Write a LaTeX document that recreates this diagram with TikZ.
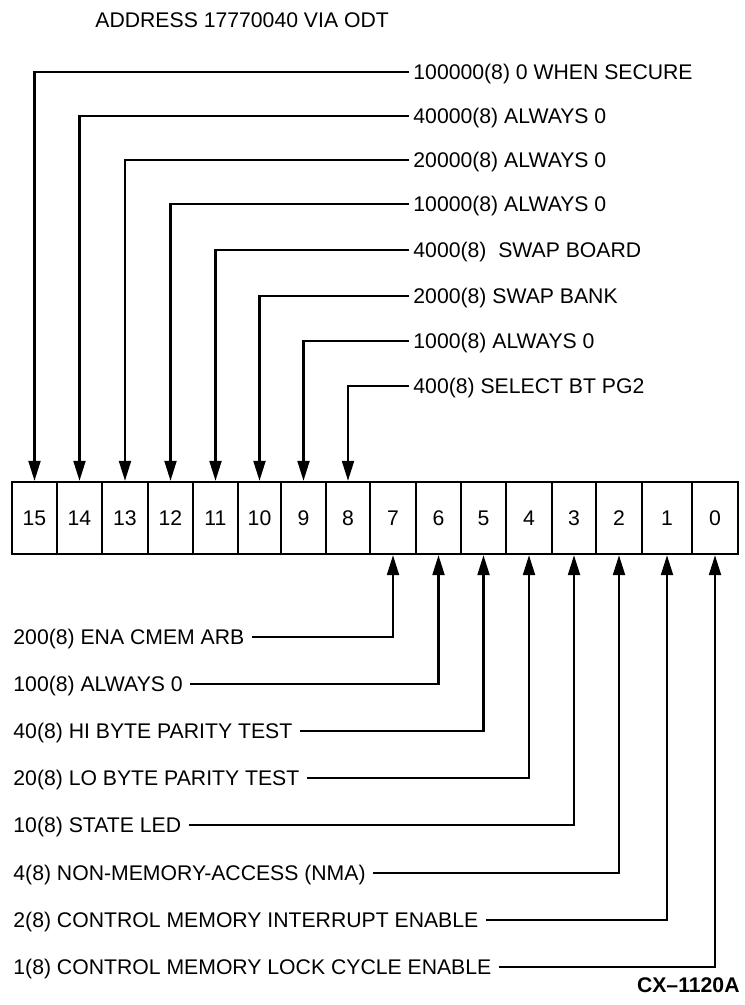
\documentclass[tikz,border=0pt]{standalone}
\usepackage{fontspec}
\setmainfont{Liberation Sans}
\usetikzlibrary{arrows.meta}

\begin{document}
\begin{tikzpicture}[
    x=0.75pt, y=-0.75pt, >={Triangle[length=15pt, width=9pt]},
    every node/.style={font=\fontsize{15.9pt}{18pt}\selectfont},
    cell/.style={draw, line width=1.8pt, minimum height=54pt, inner sep=0pt,
                 text height=11.4pt, text depth=0pt},
    lbl/.style={inner xsep=3.5pt, inner ysep=0pt, text height=11.4pt,
                text depth=0pt},
    wire/.style={->, line width=1.6pt}
  ]
  \useasboundingbox (0,0) rectangle (744,1005);

  \node[lbl, anchor=west] (title) at (90.5,19.5) {ADDRESS 17770040 VIA ODT};

  \foreach \n/\l/\r in {15/12/57, 14/57/102, 13/102/148, 12/148/193,
                        11/193/238, 10/238/281, 9/281/326, 8/326/370,
                        7/370/416, 6/416/461, 5/461/506, 4/506/552,
                        3/552/596, 2/596/642, 1/642/692, 0/692/738}
    \node[cell, minimum width={(\r-\l)*0.75pt}] (b\n) at ({(\l+\r)/2},518) {\n};

  \node[lbl, anchor=west] (t15) at (408.5,72) {100000(8) 0 WHEN SECURE};
  \node[lbl, anchor=west] (t14) at (408.5,116) {40000(8) ALWAYS 0};
  \node[lbl, anchor=west] (t13) at (408.5,160) {20000(8) ALWAYS 0};
  \node[lbl, anchor=west] (t12) at (408.5,204) {10000(8) ALWAYS 0};
  \node[lbl, anchor=west] (t11) at (408.5,250) {4000(8)\ \ SWAP BOARD};
  \node[lbl, anchor=west] (t10) at (408.5,296) {2000(8) SWAP BANK};
  \node[lbl, anchor=west] (t9) at (408.5,341) {1000(8) ALWAYS 0};
  \node[lbl, anchor=west] (t8) at (408.5,386) {400(8) SELECT BT PG2};
  \foreach \n in {15,...,8}
    \draw[wire] (t\n.west) -| (b\n.north);

  \node[lbl, anchor=west] (c7) at (8.5,637) {200(8) ENA CMEM ARB};
  \node[lbl, anchor=west] (c6) at (8.5,684) {100(8) ALWAYS 0};
  \node[lbl, anchor=west] (c5) at (8.5,731) {40(8) HI BYTE PARITY TEST};
  \node[lbl, anchor=west] (c4) at (8.5,778) {20(8) LO BYTE PARITY TEST};
  \node[lbl, anchor=west] (c3) at (8.5,825) {10(8) STATE LED};
  \node[lbl, anchor=west] (c2) at (8.5,873) {4(8) NON-MEMORY-ACCESS (NMA)};
  \node[lbl, anchor=west] (c1) at (8.5,920)
    {2(8) CONTROL MEMORY INTERRUPT ENABLE};
  \node[lbl, anchor=west] (c0) at (8.5,967)
    {1(8) CONTROL MEMORY LOCK CYCLE ENABLE};
  \foreach \n in {7,...,0}
    \draw[wire, shorten <=2pt] (c\n.east) -| (b\n.south);

  \node[lbl, anchor=east, font=\fontsize{15.9pt}{18pt}\selectfont\bfseries]
    (fig) at (744.5,985) {CX–1120A};
\end{tikzpicture}
\end{document}
